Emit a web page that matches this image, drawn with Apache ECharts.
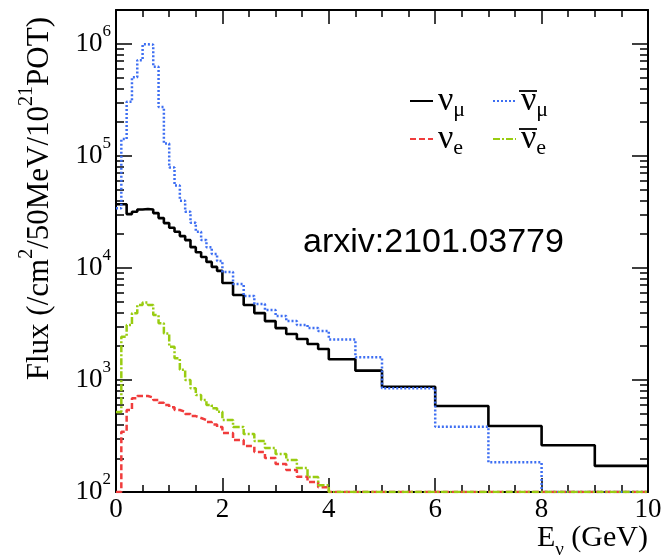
<!DOCTYPE html>
<html><head><meta charset="utf-8">
<script src="https://cdn.jsdelivr.net/npm/echarts@6/dist/echarts.min.js"></script>
<style>html,body{margin:0;padding:0;background:#fff}#c{width:671px;height:560px}</style>
</head><body><div id="c"></div>
<script>
// Bin edges (GeV)
const binEdges = [0,0.1,0.2,0.3,0.4,0.5,0.6,0.7,0.8,0.9,1.0,1.1,1.2,1.3,1.4,1.5,1.6,1.7,1.8,1.9,2.0,
  2.2,2.4,2.6,2.8,3.0,3.2,3.4,3.6,3.8,4.0,4.5,5,6,7,8,9,10];
// Flux per bin (/cm2/50MeV/1e21 POT)
const numu = [37000,37000,30200,31700,33200,33500,33200,30800,27800,25100,22800,21000,19200,17700,15300,13800,12500,11300,10200,9400,
  7320,5720,4660,3950,3350,2900,2570,2320,2090,1890,1530,1210,870,585,388,261,171];
const anumu = [34000,141000,303000,503000,714000,990000,980000,622000,272000,128500,78500,54200,39800,31700,25300,21000,17700,15300,13300,11500,
  9170,7170,5600,4750,4200,3720,3350,3090,2900,2730,2300,1590,841,382,184,100,100];
const nue = [100,345,539,685,719,719,697,662,626,597,570,539,520,496,476,457,439,421,400,380,
  336,291,257,227,201,178,157,137,123,110,100,100,100,100,100,100,100];
const anue = [517,2430,3090,3930,4660,4920,4660,3790,3200,2600,1980,1560,1230,998,842,733,662,597,558,520,
  439,380,329,285,247,218,193,164,136,115,100,100,100,100,100,100,100];
const seriesNames = ['numu','anumu','nue','anue'];
const legendLabels = {
  numu: '{v|\u03BD}{s|\u03BC}',
  anumu: '{v|\u03BD}{s|\u03BC}',
  nue: '{v|\u03BD}{s|e}',
  anue: '{v|\u03BD}{s|e}'
};
const yMajorTicks = [100,1000,10000,100000,1000000];
const yTickExponents = ['2','3','4','5','6'];
const xMin = 0, xMax = 10, xInterval = 2;
const yMin = 100, yMax = 2000000;

const yMinorTicks = [];
for (const d of [100,1000,10000,100000,1000000]) {
  for (let k = 2; k <= 9; k++) { const v = d*k; if (v < yMax) yMinorTicks.push(v); }
}

function toSteps(vals) {
  const pts = vals.map((v, i) => [binEdges[i], v]);
  pts.push([binEdges[binEdges.length - 1], vals[vals.length - 1]]);
  return pts;
}

const SERIF = 'Liberation Serif';
const black = '#000';
const tickW = 1.5;

function xAxisCfg(pos, showLabel) {
  return {
    type: 'value', position: pos, min: xMin, max: xMax, interval: xInterval,
    axisLine: { show: true, onZero: false, lineStyle: { color: black, width: 2 } },
    axisTick: { show: true, inside: true, length: 14, lineStyle: { color: black, width: tickW } },
    minorTick: { show: true, splitNumber: 4, length: 7, lineStyle: { color: black, width: tickW } },
    axisLabel: { show: showLabel, fontFamily: SERIF, fontSize: 27, color: black, margin: 4 },
    splitLine: { show: false }, minorSplitLine: { show: false }
  };
}
const yLabelMap = {};
yMajorTicks.forEach((v, i) => { yLabelMap[v] = yTickExponents[i]; });

function yAxisCfg(pos, major, showLabel, showLine) {
  return {
    type: 'log', position: pos, min: yMin, max: yMax, logBase: 10,
    axisLine: { show: showLine, onZero: false, lineStyle: { color: black, width: 2 } },
    axisTick: { show: true, inside: true, length: major ? 16 : 8,
      customValues: major ? yMajorTicks : yMinorTicks,
      lineStyle: { color: black, width: tickW } },
    axisLabel: { show: showLabel, customValues: yMajorTicks, margin: 5, color: black,
      formatter: (v) => '{b|10}{s|' + (yLabelMap[Math.round(v)] || '') + '}',
      rich: {
        b: { fontFamily: SERIF, fontSize: 27, color: black, lineHeight: 42 },
        s: { fontFamily: SERIF, fontSize: 17, color: black, lineHeight: 17, verticalAlign: 'top' }
      } },
    splitLine: { show: false }, minorTick: { show: false }
  };
}

const lineStyles = {
  numu: { color: '#000000', width: 2.6, type: 'solid' },
  anumu: { color: '#3d6ef2', width: 2.5, type: [2, 2] },
  nue: { color: '#f03c3c', width: 2.5, type: [6, 3] },
  anue: { color: '#99cc11', width: 2.5, type: [7, 2, 2, 2] }
};
const dataMap = { numu: numu, anumu: anumu, nue: nue, anue: anue };

const series = seriesNames.map((n, i) => ({
  name: n, type: 'line', step: 'end', symbol: 'none', showSymbol: false,
  data: toSteps(dataMap[n]), clip: true, z: 2 + i,
  lineStyle: lineStyles[n], itemStyle: { color: lineStyles[n].color }
}));

const legendRich = {
  v: { fontFamily: SERIF, fontSize: 34, color: black, lineHeight: 40 },
  s: { fontFamily: SERIF, fontSize: 22, color: black, lineHeight: 22, verticalAlign: 'bottom' }
};
function legendCfg(name, left, top) {
  return {
    data: [name], left: left, top: top, padding: 0, itemWidth: 23, itemHeight: 14,
    selectedMode: false, formatter: (nm) => legendLabels[nm],
    itemStyle: { opacity: 0 },
    textStyle: { rich: legendRich, color: black }
  };
}
// overline bars marking the anti-neutrino symbols in the legend
function barCfg(x1, x2, y) {
  return { type: 'line', silent: true, z: 100,
    shape: { x1: x1, y1: y, x2: x2, y2: y }, style: { stroke: black, lineWidth: 1.8 } };
}

const chart = echarts.init(document.getElementById('c'), null, { renderer: 'canvas' });
chart.setOption({
  animation: false,
  backgroundColor: '#fff',
  grid: { left: 116, right: 23, top: 10, bottom: 68, containLabel: false },
  xAxis: [xAxisCfg('bottom', true), xAxisCfg('top', false)],
  yAxis: [yAxisCfg('left', true, true, true), yAxisCfg('left', false, false, false),
          yAxisCfg('right', true, false, true), yAxisCfg('right', false, false, false)],
  legend: [legendCfg('numu', 409, 84), legendCfg('anumu', 492, 84),
           legendCfg('nue', 409, 122), legendCfg('anue', 492, 122)],
  series: series,
  graphic: [
    barCfg(519, 537, 91), barCfg(519, 537, 129),
    { type: 'text', x: 303, y: 243, silent: true,
      style: { text: 'arxiv:2101.03779', fontFamily: 'Liberation Sans', fontSize: 34, fill: black,
        align: 'left', verticalAlign: 'middle', textAlign: 'left', textVerticalAlign: 'middle' } },
    { type: 'text', x: 648, y: 538, silent: true,
      style: { text: 'E{s|\u03BD} (GeV)', fontFamily: SERIF, fontSize: 30, fill: black, lineHeight: 44,
        align: 'right', verticalAlign: 'middle', textAlign: 'right', textVerticalAlign: 'middle',
        rich: { s: { fontFamily: SERIF, fontSize: 19, fill: black, lineHeight: 19, verticalAlign: 'bottom' } } } },
    { type: 'text', x: 40, y: 17, rotation: Math.PI / 2, silent: true,
      style: { text: 'Flux (/cm{s|2}/50MeV/10{s|21}POT)', fontFamily: SERIF, fontSize: 31, fill: black, lineHeight: 46,
        align: 'right', verticalAlign: 'middle', textAlign: 'right', textVerticalAlign: 'middle',
        rich: { s: { fontFamily: SERIF, fontSize: 20, fill: black, lineHeight: 20, verticalAlign: 'top' } } } }
  ]
});
</script></body></html>
